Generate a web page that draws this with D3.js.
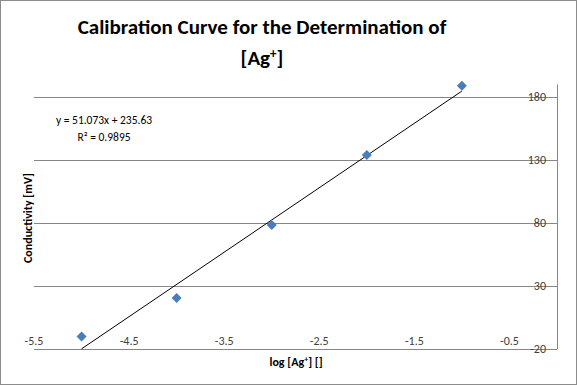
<!DOCTYPE html>
<html>
<head>
<meta charset="utf-8">
<script src="https://cdn.jsdelivr.net/npm/d3@7"></script>
<style>
  body { margin: 0; background: #fff; }
  svg { display: block; font-family: Carlito, Lato, "Open Sans", sans-serif; }
</style>
</head>
<body>
<svg width="577" height="385"></svg>
<script>
// The data
var logAg = [-5, -4, -3, -2, -1];
var conductivity = [-10, 20.5, 78.5, 134, 189];
var xTicks = [-5.5, -4.5, -3.5, -2.5, -1.5, -0.5];
var yTicks = [-20, 30, 80, 130, 180];
var equationText = "y = 51.073x + 235.63";
var r2Text = "R\u00B2 = 0.9895";

var svg = d3.select("svg"),
    width = +svg.attr("width"),
    height = +svg.attr("height");

// outer chart border
svg.append("rect")
    .attr("x", 0.5).attr("y", 0.5)
    .attr("width", width - 1).attr("height", height - 1)
    .attr("fill", "#fff")
    .attr("stroke", "#8c8c8c");

// scales
var x = d3.scaleLinear().domain([-5.5, 0]).range([34, 557]);
var y = d3.scaleLinear().domain([-20, 190]).range([349, 84.4]);

// gridlines
svg.append("g")
    .selectAll("line")
    .data(yTicks)
    .enter()
    .append("line")
    .attr("x1", x(-5.5))
    .attr("x2", x(0))
    .attr("y1", function (d) { return Math.round(y(d)) + 0.5; })
    .attr("y2", function (d) { return Math.round(y(d)) + 0.5; })
    .attr("stroke", "#868686")
    .attr("stroke-width", 1);

// vertical axis (sits at x = 0, on the right)
svg.append("line")
    .attr("x1", Math.round(x(0)) + 0.5).attr("x2", Math.round(x(0)) + 0.5)
    .attr("y1", y(190)).attr("y2", y(-20))
    .attr("stroke", "#868686");

// y tick labels, left of the axis, centred on the gridline
svg.append("g")
    .selectAll("text")
    .data(yTicks)
    .enter()
    .append("text")
    .attr("x", x(0) - 11)
    .attr("y", function (d) { return y(d); })
    .attr("dy", "0.35em")
    .attr("text-anchor", "end")
    .style("font-size", "12px")
    .style("fill", "#404040")
    .text(function (d) { return d; });

// x tick labels, just above the bottom line
svg.append("g")
    .selectAll("text")
    .data(xTicks)
    .enter()
    .append("text")
    .attr("x", function (d) { return x(d); })
    .attr("y", y(-20) - 4)
    .attr("text-anchor", "middle")
    .style("font-size", "12px")
    .style("fill", "#404040")
    .text(function (d) { return d; });

// linear trendline (least squares over the points)
var mx = d3.mean(logAg), my = d3.mean(conductivity);
var sxy = d3.sum(logAg, function (v, i) { return (v - mx) * (conductivity[i] - my); });
var sxx = d3.sum(logAg, function (v) { return (v - mx) * (v - mx); });
var slope = sxy / sxx, intercept = my - slope * mx;
var xr = d3.extent(logAg);

svg.append("line")
    .attr("x1", x(xr[0])).attr("y1", y(slope * xr[0] + intercept))
    .attr("x2", x(xr[1])).attr("y2", y(slope * xr[1] + intercept))
    .attr("stroke", "#000")
    .attr("stroke-width", 1);

// markers
svg.append("g")
    .selectAll("path")
    .data(logAg)
    .enter()
    .append("path")
    .attr("d", d3.symbol().type(d3.symbolSquare).size(50))
    .attr("transform", function (d, i) {
        return "translate(" + x(d) + "," + y(conductivity[i]) + ") rotate(45)";
    })
    .attr("fill", "#4A7EBB");

// trendline label
svg.append("text")
    .attr("x", 104).attr("y", 124)
    .attr("text-anchor", "middle")
    .style("font-size", "11.5px")
    .style("fill", "#000")
    .text(equationText);
svg.append("text")
    .attr("x", 104).attr("y", 141)
    .attr("text-anchor", "middle")
    .style("font-size", "11.5px")
    .style("fill", "#000")
    .text(r2Text);

// title
var title = svg.append("text")
    .attr("text-anchor", "middle")
    .style("font-size", "21px")
    .style("font-weight", "bold")
    .style("fill", "#000");
title.append("tspan").attr("x", 262).attr("y", 34)
    .text("Calibration Curve for the Determination of");
var t2 = title.append("tspan").attr("x", 262).attr("y", 65);
t2.append("tspan").text("[Ag");
t2.append("tspan").attr("dy", -7).style("font-size", "13px").text("+");
t2.append("tspan").attr("dy", 7).text("]");

// axis titles
svg.append("text")
    .attr("transform", "translate(32,218) rotate(-90)")
    .attr("text-anchor", "middle")
    .style("font-size", "12px")
    .style("font-weight", "bold")
    .text("Conductivity  [mV]");

var xt = svg.append("text")
    .attr("x", 296).attr("y", 366)
    .attr("text-anchor", "middle")
    .style("font-size", "12px")
    .style("font-weight", "bold");
xt.append("tspan").text("log [Ag");
xt.append("tspan").attr("dy", -4).style("font-size", "8px").text("+");
xt.append("tspan").attr("dy", 4).text("] []");
</script>
</body>
</html>
